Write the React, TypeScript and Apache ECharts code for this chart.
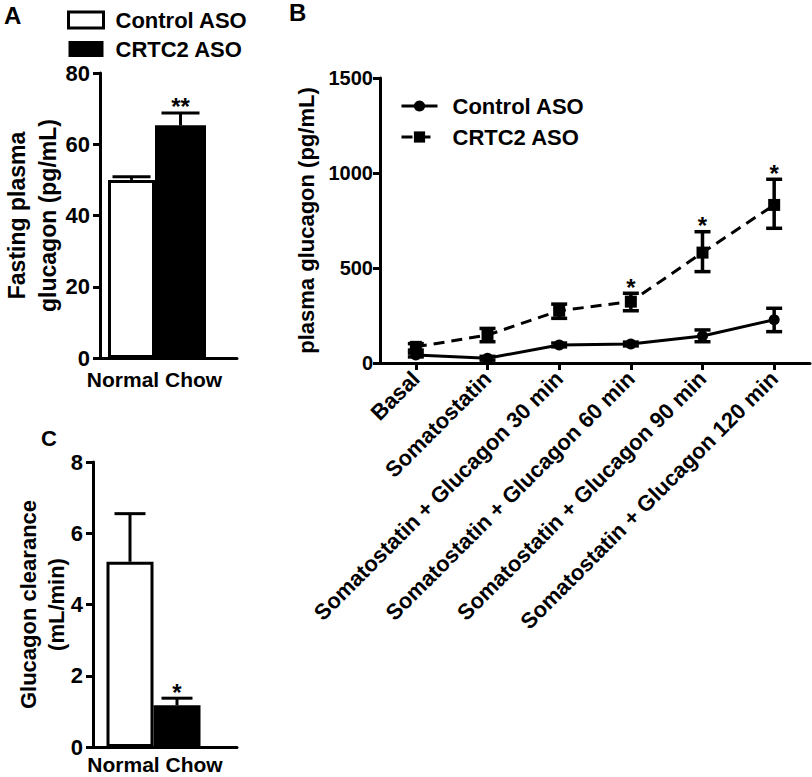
import React, { useEffect, useRef } from 'react';
import * as echarts from 'echarts';

const FONT = 'Liberation Sans';

// ---------- data ----------
const groupNames = ['Control ASO', 'CRTC2 ASO'];
const dietCategory = ['Normal Chow'];

// Panel A: fasting plasma glucagon (pg/mL)
const fastingMean = [50.0, 65.3];
const fastingUpper = [50.9, 68.8];
const fastingSig = ['', '**'];

// Panel B: plasma glucagon over the clamp (pg/mL)
const timepoints = [
  'Basal',
  'Somatostatin',
  'Somatostatin + Glucagon 30 min',
  'Somatostatin + Glucagon 60 min',
  'Somatostatin + Glucagon 90 min',
  'Somatostatin + Glucagon 120 min',
];
const controlMean = [42, 25, 95, 100, 142, 228];
const controlLow = [32, 15, 85, 90, 112, 165];
const controlHigh = [52, 35, 105, 110, 174, 288];
const crtc2Mean = [85, 147, 275, 323, 581, 832];
const crtc2Low = [68, 112, 235, 275, 481, 709];
const crtc2High = [102, 182, 310, 367, 691, 967];
const timeSig = ['', '', '', '*', '*', '*'];

// Panel C: glucagon clearance (mL/min)
const clearanceMean = [5.2, 1.17];
const clearanceUpper = [6.55, 1.37];
const clearanceSig = ['', '*'];

// ---------- styling helpers ----------
const txt = (size: number) => ({ fontFamily: FONT, fontWeight: 'bold' as const, fontSize: size, color: '#000' });
const axisLine = { show: true, onZero: false, lineStyle: { color: '#000', width: 3 } };
const tickOut = { show: true, inside: false, length: 7, lineStyle: { color: '#000', width: 3 } };
const plain = (v: number) => String(v);

const groupColors = ['#ffffff', '#000000'];

function barOffsets(widths: number[]) {
  const total = widths.reduce((a, b) => a + b, 0);
  let start = -total / 2;
  return widths.map((w) => {
    const c = start + w / 2;
    start += w;
    return c;
  });
}

// widths: control, crtc2, spacer
const A_W = [47, 51, 23];
const C_W = [47, 47, 23];
const A_OFF = barOffsets(A_W);
const C_OFF = barOffsets(C_W);

function barErrorRender(offsets: number[], capW: number, sig: string[]) {
  return (params: any, api: any) => {
    const g = api.value(3);
    const base = api.coord([api.value(0), api.value(1)]);
    const top = api.coord([api.value(0), api.value(2)]);
    const x = base[0] + offsets[g];
    const children: any[] = [
      { type: 'line', shape: { x1: x, y1: base[1], x2: x, y2: top[1] }, style: { stroke: '#000', lineWidth: 3 } },
      { type: 'line', shape: { x1: x - capW / 2, y1: top[1], x2: x + capW / 2, y2: top[1] }, style: { stroke: '#000', lineWidth: 3 } },
    ];
    if (sig[g]) {
      children.push({
        type: 'text',
        x,
        y: top[1] + 6,
        style: { text: sig[g], fontFamily: FONT, fontWeight: 'bold', fontSize: 24, fill: '#000', align: 'center', verticalAlign: 'bottom' },
      });
    }
    return { type: 'group', children };
  };
}

function lineErrorRender(capW: number, sig: string[] | null) {
  return (params: any, api: any) => {
    const i = api.value(0);
    const lo = api.coord([i, api.value(1)]);
    const hi = api.coord([i, api.value(2)]);
    const x = lo[0];
    const children: any[] = [
      { type: 'line', shape: { x1: x, y1: lo[1], x2: x, y2: hi[1] }, style: { stroke: '#000', lineWidth: 3.5 } },
      { type: 'line', shape: { x1: x - capW / 2, y1: lo[1], x2: x + capW / 2, y2: lo[1] }, style: { stroke: '#000', lineWidth: 3.5 } },
      { type: 'line', shape: { x1: x - capW / 2, y1: hi[1], x2: x + capW / 2, y2: hi[1] }, style: { stroke: '#000', lineWidth: 3.5 } },
    ];
    if (sig && sig[params.dataIndex]) {
      children.push({
        type: 'text',
        x,
        y: hi[1] + 6,
        style: { text: sig[params.dataIndex], fontFamily: FONT, fontWeight: 'bold', fontSize: 24, fill: '#000', align: 'center', verticalAlign: 'bottom' },
      });
    }
    return { type: 'group', children };
  };
}

function barSeries(gridIdx: number, means: number[], widths: number[]) {
  const s: any[] = groupNames.map((name, g) => ({
    type: 'bar',
    name,
    xAxisIndex: gridIdx,
    yAxisIndex: gridIdx,
    data: [means[g]],
    barWidth: widths[g],
    barGap: '0%',
    itemStyle: g === 0
      ? { color: groupColors[0], borderColor: '#000', borderWidth: 3 }
      : { color: groupColors[1], borderColor: '#000', borderWidth: 0 },
    z: 2,
    silent: true,
  }));
  s.push({
    type: 'bar',
    name: 'spacer-' + gridIdx,
    xAxisIndex: gridIdx,
    yAxisIndex: gridIdx,
    data: ['-'],
    barWidth: widths[2],
    barGap: '0%',
    itemStyle: { color: 'rgba(0,0,0,0)' },
    silent: true,
  });
  return s;
}

const option: any = {
  animation: false,
  backgroundColor: '#fff',
  title: [
    { text: 'A', left: 4, top: 3, padding: 0, textStyle: txt(24) },
    { text: 'B', left: 289, top: 0, padding: 0, textStyle: txt(24) },
    { text: 'C', left: 41, top: 427, padding: 0, textStyle: txt(22) },
  ],
  legend: [
    {
      data: [
        { name: groupNames[0], itemStyle: { color: '#fff', borderColor: '#000', borderWidth: 3 } },
        { name: groupNames[1], itemStyle: { color: '#000', borderWidth: 0 } },
      ],
      icon: 'rect',
      left: 62,
      top: 4,
      orient: 'vertical',
      itemWidth: 35,
      itemHeight: 16,
      itemGap: 7,
      selectedMode: false,
      textStyle: { ...txt(22), padding: [0, 0, 0, 7] },
    },
    {
      data: groupNames.map((n) => n + ' (B)'),
      formatter: (n: string) => n.replace(' (B)', ''),
      left: 395,
      top: 90,
      orient: 'vertical',
      itemWidth: 36,
      itemHeight: 14,
      itemGap: 9,
      selectedMode: false,
      lineStyle: { width: 3 },
      textStyle: { ...txt(22), padding: [0, 0, 0, 10] },
    },
  ],
  grid: [
    { left: 93, top: 73, width: 144, height: 285 },
    { left: 380, top: 78, width: 430, height: 285 },
    { left: 93, top: 462, width: 144, height: 285 },
  ],
  xAxis: [
    {
      gridIndex: 0,
      type: 'category',
      data: dietCategory,
      axisLine,
      axisTick: { show: false },
      axisLabel: { ...txt(21), margin: 11, padding: [0, 28, 0, 0] },
      splitLine: { show: false },
    },
    {
      gridIndex: 1,
      type: 'category',
      data: timepoints,
      boundaryGap: true,
      axisLine,
      axisTick: { ...tickOut, alignWithLabel: true },
      axisLabel: { ...txt(22), rotate: 45, interval: 0, margin: 12 },
      splitLine: { show: false },
    },
    {
      gridIndex: 2,
      type: 'category',
      data: dietCategory,
      axisLine,
      axisTick: { show: false },
      axisLabel: { ...txt(21), margin: 7, padding: [0, 20, 0, 0] },
      splitLine: { show: false },
    },
  ],
  yAxis: [
    {
      gridIndex: 0,
      type: 'value',
      min: 0,
      max: 80,
      interval: 20,
      axisLine,
      axisTick: tickOut,
      axisLabel: { ...txt(22), margin: 10, formatter: plain },
      splitLine: { show: false },
      name: 'Fasting plasma\nglucagon (pg/mL)',
      nameLocation: 'middle',
      nameRotate: 90,
      nameGap: 37,
      nameMoveOverlap: false,
      nameTextStyle: { ...txt(23), lineHeight: 31 },
    },
    {
      gridIndex: 1,
      type: 'value',
      min: 0,
      max: 1500,
      interval: 500,
      axisLine,
      axisTick: tickOut,
      axisLabel: { ...txt(20), margin: 7, formatter: plain },
      splitLine: { show: false },
      name: 'plasma glucagon (pg/mL)',
      nameLocation: 'middle',
      nameRotate: 90,
      nameGap: 62,
      nameMoveOverlap: false,
      nameTextStyle: { ...txt(22), lineHeight: 24 },
    },
    {
      gridIndex: 2,
      type: 'value',
      min: 0,
      max: 8,
      interval: 2,
      axisLine,
      axisTick: tickOut,
      axisLabel: { ...txt(22), margin: 10, formatter: plain },
      splitLine: { show: false },
      name: 'Glucagon clearance\n(mL/min)',
      nameLocation: 'middle',
      nameRotate: 90,
      nameGap: 23,
      nameMoveOverlap: false,
      nameTextStyle: { ...txt(22), lineHeight: 28 },
    },
  ],
  series: [
    ...barSeries(0, fastingMean, A_W),
    {
      type: 'custom',
      name: 'errA',
      xAxisIndex: 0,
      yAxisIndex: 0,
      z: 5,
      silent: true,
      renderItem: barErrorRender(A_OFF, 38, fastingSig),
      encode: { x: 0, y: [1, 2] },
      data: groupNames.map((_, g) => [0, fastingMean[g], fastingUpper[g], g]),
    },
    ...barSeries(2, clearanceMean, C_W),
    {
      type: 'custom',
      name: 'errC',
      xAxisIndex: 2,
      yAxisIndex: 2,
      z: 5,
      silent: true,
      renderItem: barErrorRender(C_OFF, 31, clearanceSig),
      encode: { x: 0, y: [1, 2] },
      data: groupNames.map((_, g) => [0, clearanceMean[g], clearanceUpper[g], g]),
    },
    {
      type: 'line',
      name: groupNames[0] + ' (B)',
      xAxisIndex: 1,
      yAxisIndex: 1,
      data: controlMean,
      symbol: 'circle',
      symbolSize: 11,
      itemStyle: { color: '#000' },
      lineStyle: { color: '#000', width: 3, type: 'solid' },
      z: 4,
      silent: true,
    },
    {
      type: 'line',
      name: groupNames[1] + ' (B)',
      xAxisIndex: 1,
      yAxisIndex: 1,
      data: crtc2Mean,
      symbol: 'rect',
      symbolSize: 12,
      itemStyle: { color: '#000' },
      lineStyle: { color: '#000', width: 3, type: [11, 7] },
      z: 4,
      silent: true,
    },
    {
      type: 'custom',
      name: 'errB-control',
      xAxisIndex: 1,
      yAxisIndex: 1,
      z: 5,
      silent: true,
      renderItem: lineErrorRender(16, null),
      encode: { x: 0, y: [1, 2] },
      data: timepoints.map((_, i) => [i, controlLow[i], controlHigh[i]]),
    },
    {
      type: 'custom',
      name: 'errB-crtc2',
      xAxisIndex: 1,
      yAxisIndex: 1,
      z: 5,
      silent: true,
      renderItem: lineErrorRender(16, timeSig),
      encode: { x: 0, y: [1, 2] },
      data: timepoints.map((_, i) => [i, crtc2Low[i], crtc2High[i]]),
    },
  ],
};

export default function App() {
  const ref = useRef<HTMLDivElement>(null);
  useEffect(() => {
    if (!ref.current) return;
    const chart = echarts.init(ref.current, null, { renderer: 'svg' });
    chart.setOption(option);
    return () => chart.dispose();
  }, []);
  return (
    <div
      ref={ref}
      style={{ position: 'fixed', left: 0, top: 0, width: 812, height: 777, background: '#fff' }}
    />
  );
}
